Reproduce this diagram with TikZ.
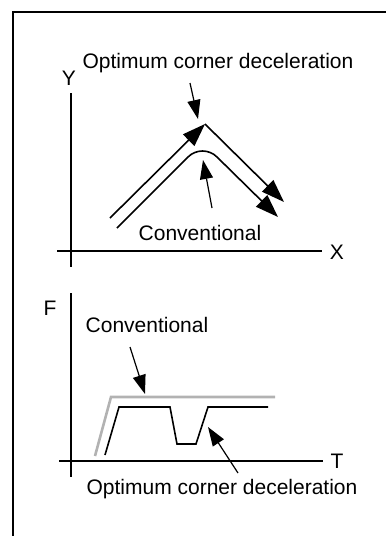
\documentclass[tikz,border=0pt]{standalone}
\usepackage{fontspec}
\setmainfont{Liberation Sans}
\usetikzlibrary{arrows.meta}
\begin{document}
\begin{tikzpicture}[x=1pt,y=-1pt,
  axis/.style={line width=2pt},
  curve/.style={line width=1.6pt},
  bigtip/.style={-{Triangle[length=23pt,width=16pt]}},
  labtip/.style={line width=1.2pt,-{Triangle[length=19pt,width=13pt]}},
  lab/.style={font=\fontsize{21}{25}\selectfont, inner sep=0pt},
  grayline/.style={line width=2.6pt, gray!60}]
\useasboundingbox (0,0) rectangle (386,536);
% frame
\coordinate (fb) at (13,536);
\coordinate (fc) at (13,12);
\coordinate (fr) at (386,12);
\draw[line width=2pt] (fb) -- (fc) -- (fr);
% ---- top diagram ----
\coordinate (yt) at (71,93);
\coordinate (yb) at (71,267);
\coordinate (xl) at (57,251);
\coordinate (xr) at (322,251);
\draw[axis] (yt) -- (yb);
\draw[axis] (xl) -- (xr);
\node[lab] (Y) at (69,78) {Y};
\node[lab] (X) at (337,252) {X};
\node[lab] (opt1) at (218,63) {Optimum corner deceleration};
\node[lab] (conv1) at (200,233) {Conventional};
% optimum path
\coordinate (os) at (110,218);
\coordinate (oc) at (205,124);
\coordinate (oe) at (284,202);
\draw[curve,bigtip] (os) -- (oc);
\draw[curve,bigtip] (oc) -- (oe);
% conventional path
\coordinate (cs) at (117,228);
\coordinate (c1) at (188,157);
\coordinate (c2) at (217,157);
\coordinate (ce) at (278,217);
\draw[curve,bigtip] (cs) -- (c1) .. controls (196,149) and (209,149) .. (c2) -- (ce);
% label arrows
\coordinate (a1s) at (190,83);
\coordinate (a1e) at (198,119);
\draw[labtip] (a1s) -- (a1e);
\coordinate (a2s) at (212,208);
\coordinate (a2e) at (203,160);
\draw[labtip] (a2s) -- (a2e);
% ---- bottom diagram ----
\coordinate (ft) at (71,293);
\coordinate (fbm) at (71,477);
\coordinate (tl) at (59,461);
\coordinate (tr) at (323,461);
\draw[axis] (ft) -- (fbm);
\draw[axis] (tl) -- (tr);
\node[lab] (F) at (50,308) {F};
\node[lab] (T) at (337,461) {T};
\node[lab] (conv2) at (147,325) {Conventional};
\node[lab] (opt2) at (222,489) {Optimum corner deceleration};
% conventional (gray)
\coordinate (g1) at (95,456);
\coordinate (g2) at (111,397);
\coordinate (g3) at (275,397);
\draw[grayline] (g1) -- (g2) -- (g3);
% optimum (black)
\coordinate (b1) at (105,455);
\coordinate (b2) at (119,407);
\coordinate (b3) at (170,407);
\coordinate (b4) at (177,444);
\coordinate (b5) at (196,444);
\coordinate (b6) at (208,407);
\coordinate (b7) at (268,407);
\draw[curve] (b1) -- (b2) -- (b3) -- (b4) -- (b5) -- (b6) -- (b7);
% label arrows
\coordinate (a3s) at (130,347);
\coordinate (a3e) at (145,394);
\draw[labtip] (a3s) -- (a3e);
\coordinate (a4s) at (238,473);
\coordinate (a4e) at (208,427);
\draw[labtip] (a4s) -- (a4e);
\end{tikzpicture}
\end{document}
